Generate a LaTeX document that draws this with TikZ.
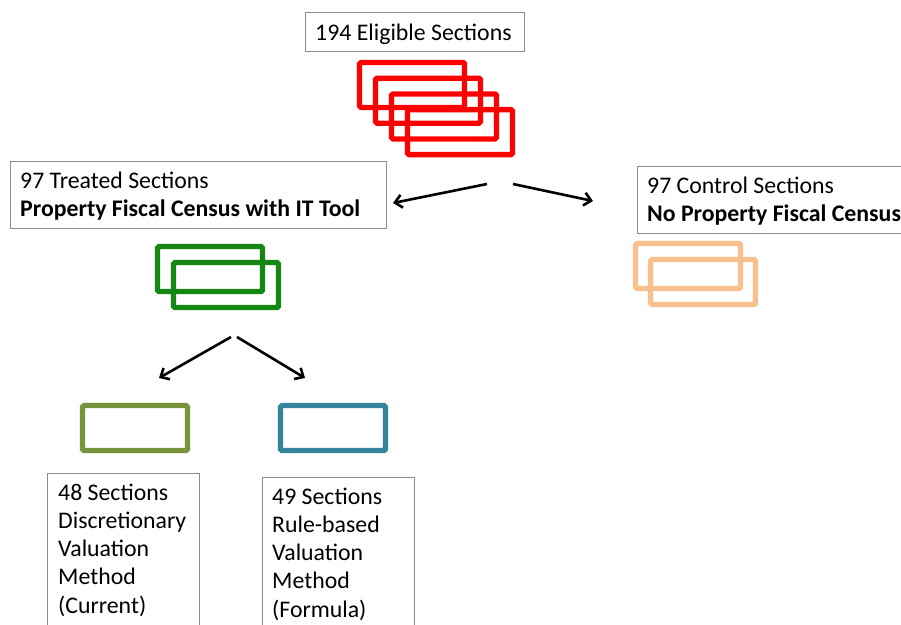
\documentclass[tikz,border=0pt]{standalone}
\usepackage{fontspec}
\setmainfont{Carlito}
\usetikzlibrary{arrows.meta}

\definecolor{boxgray}{RGB}{140,140,140}
\definecolor{poolred}{RGB}{255,0,0}
\definecolor{treatgreen}{RGB}{20,135,20}
\definecolor{ctrlpeach}{RGB}{249,192,143}
\definecolor{olive}{RGB}{119,147,60}
\definecolor{teal}{RGB}{49,132,155}

\tikzset{
  labelbox/.style={draw=boxgray, line width=0.9pt, inner sep=0pt},
  labeltext/.style={anchor=base west, inner sep=0pt, font=\fontsize{23.8}{28.3}\selectfont},
  unit/.style={line width=5.3pt, rounded corners=1.5pt},
  link/.style={line width=2.6pt, -{Straight Barb[length=7pt,width=13pt,line width=2.6pt]}},
}

\newcommand{\lines}[1]{\begin{tabular}[t]{@{}l@{}}#1\end{tabular}}

\begin{document}
\begin{tikzpicture}[x=1pt,y=-1pt]
\useasboundingbox (0,0) rectangle (901,624);
\fill[white] (0,0) rectangle (901,624);
\clip (0,0) rectangle (901,624);

% framed captions
\node[labelbox, minimum width=219pt, minimum height=39pt, anchor=north west] (poolbox) at (305,12) {};
\node[labeltext] (pool) at (315,40) {194 Eligible Sections};

\node[labelbox, minimum width=376pt, minimum height=67pt, anchor=north west] (treatbox) at (10,161) {};
\node[labeltext] (treat) at (20,188) {\lines{97 Treated Sections\\\textbf{Property Fiscal Census with IT Tool}}};

\node[labelbox, minimum width=280pt, minimum height=67pt, anchor=north west] (ctrlbox) at (637,166) {};
\node[labeltext] (ctrl) at (647,193) {\lines{97 Control Sections\\\textbf{No Property Fiscal Census}}};

\node[labelbox, minimum width=152pt, minimum height=180pt, anchor=north west] (discbox) at (47,473) {};
\node[labeltext] (disc) at (58,500) {\lines{48 Sections\\Discretionary\\Valuation\\Method\\(Current)}};

\node[labelbox, minimum width=152pt, minimum height=180pt, anchor=north west] (rulebox) at (262,477) {};
\node[labeltext] (rule) at (272,504) {\lines{49 Sections\\Rule-based\\Valuation\\Method\\(Formula)}};

% stacks of section markers
\foreach \i in {0,...,3}
  \draw[unit, poolred] ({359.5+16*\i},{62.5+15.7*\i}) rectangle ++(105,45);
\foreach \i in {0,1}
  \draw[unit, treatgreen] ({157.5+16*\i},{246.5+16*\i}) rectangle ++(105,45);
\foreach \i in {0,1}
  \draw[unit, ctrlpeach] ({635.5+15*\i},{243.5+16*\i}) rectangle ++(105,45);
\draw[unit, olive] (82.5,405.5) rectangle ++(105,45);
\draw[unit, teal] (280.5,405.5) rectangle ++(105,45);

% branching arrows
\coordinate (splitL) at (487,184);
\coordinate (splitR) at (513,184);
\coordinate (toTreat) at (393,203);
\coordinate (toCtrl) at (593,201);
\coordinate (subL) at (231,337);
\coordinate (subR) at (237,337);
\coordinate (toDisc) at (159,378);
\coordinate (toRule) at (305,378);

\draw[link] (splitL) -- (toTreat);
\draw[link] (splitR) -- (toCtrl);
\draw[link] (subL) -- (toDisc);
\draw[link] (subR) -- (toRule);
\end{tikzpicture}
\end{document}
